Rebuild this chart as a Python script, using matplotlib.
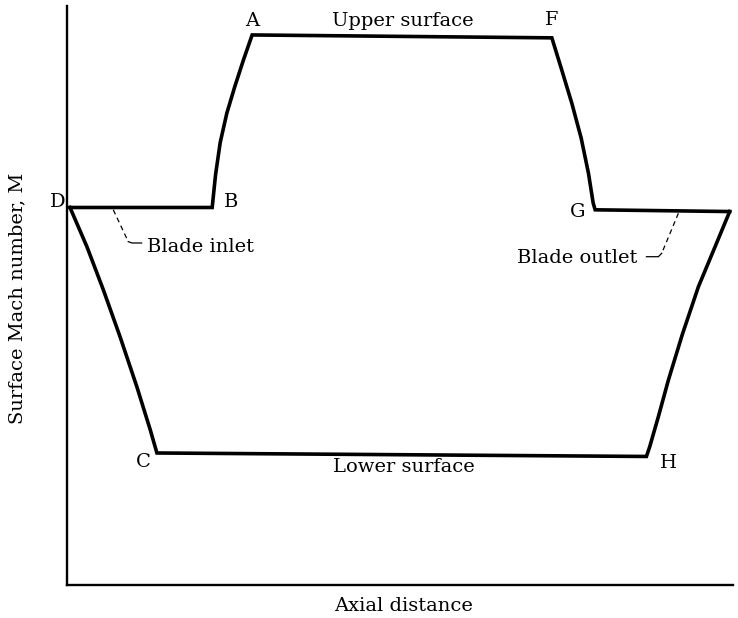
import matplotlib
matplotlib.use("Agg")
import matplotlib.pyplot as plt

# Upper surface: D -> B -> A -> F -> G -> E (outlet end)
upper_x = [0.45, 21.8, 22.3, 23.0, 24.0, 25.2, 26.5, 27.8,
           72.8, 74.3, 75.8, 77.2, 78.3, 79.0, 79.3, 99.5]
upper_y = [65.2, 65.2, 70.8, 76.4, 81.5, 86.1, 90.7, 95.0,
           94.5, 88.9, 83.2, 77.2, 71.1, 66.0, 64.8, 64.5]
# Lower surface: D -> C -> H -> E
lower_x = [0.45, 3.0, 5.45, 7.96, 10.5, 12.5, 13.5,
           87.0, 87.5, 88.8, 90.3, 92.4, 94.8, 97.3, 99.5]
lower_y = [65.2, 58.4, 51.0, 42.9, 34.2, 26.8, 22.8,
           22.2, 23.9, 29.1, 35.4, 43.3, 51.5, 58.4, 64.5]

# Leader lines
inlet_x = [6.95, 9.2]
inlet_y = [64.8, 59.3]
inlet_hook_x = [9.2, 9.76, 11.2]
inlet_hook_y = [59.3, 59.07, 59.07]
outlet_x = [91.8, 89.3]
outlet_y = [64.2, 57.3]
outlet_hook_x = [89.3, 88.8, 87.0]
outlet_hook_y = [57.3, 56.7, 56.7]

point_labels = ["A", "F", "D", "B", "G", "C", "H"]
point_px = [252, 552, 57.5, 231.5, 577.5, 143, 668]
point_py = [26, 25, 207, 207, 216.7, 466.7, 468]

fig = plt.figure(figsize=(7.38, 6.18), dpi=100)
ax = fig.add_axes([67/738, 33/618, 666/738, 579/618])
ax.set_xlim(0, 100)
ax.set_ylim(0, 100)

lw = 2.6
ax.plot(upper_x, upper_y, color="black", lw=lw, solid_joinstyle="miter", clip_on=False)
ax.plot(lower_x, lower_y, color="black", lw=lw, solid_joinstyle="miter", clip_on=False)

ax.plot(inlet_x, inlet_y, color="black", lw=0.9, ls=(0, (4, 3)))
ax.plot(inlet_hook_x, inlet_hook_y, color="black", lw=0.9)
ax.plot(outlet_x, outlet_y, color="black", lw=0.9, ls=(0, (4, 3)))
ax.plot(outlet_hook_x, outlet_hook_y, color="black", lw=0.9)

font = dict(family="DejaVu Serif", fontsize=14, color="black")

def ftext(px, py, s, **kw):
    fig.text(px/738, 1 - py/618, s, **font, **kw)

for lab, px, py in zip(point_labels, point_px, point_py):
    ftext(px, py, lab, ha="center", va="baseline")

ftext(403, 25.7, "Upper surface", ha="center", va="baseline")
ftext(403.5, 471.7, "Lower surface", ha="center", va="baseline")
ftext(147, 252.3, "Blade inlet", ha="left", va="baseline")
ftext(637, 263.3, "Blade outlet", ha="right", va="baseline")
ftext(404, 611, "Axial distance", ha="center", va="baseline")
ftext(17, 298, "Surface Mach number, M", ha="center", va="center", rotation=90)

ax.set_xticks([])
ax.set_yticks([])
for s in ["top", "right"]:
    ax.spines[s].set_visible(False)
for s in ["left", "bottom"]:
    ax.spines[s].set_linewidth(1.7)

fig.savefig("out.png", dpi=100)
